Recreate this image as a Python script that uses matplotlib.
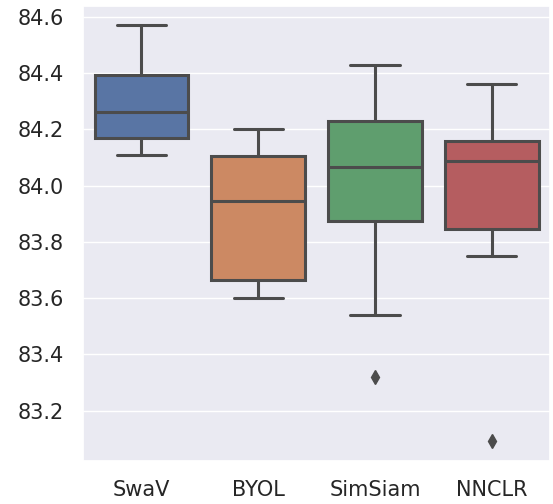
import colorsys
import matplotlib
matplotlib.use("Agg")
import matplotlib.pyplot as plt
import matplotlib.colors as mcolors
import seaborn as sns

# summary stats
methods = ["SwaV", "BYOL", "SimSiam", "NNCLR"]
whislo = [84.11, 83.60, 83.54, 83.75]
q1 = [84.17, 83.665, 83.875, 83.845]
med = [84.26, 83.945, 84.067, 84.087]
q3 = [84.393, 84.106, 84.229, 84.157]
whishi = [84.57, 84.20, 84.428, 84.361]
fliers = [[], [], [83.321], [83.092]]

sns.set_theme(style="darkgrid")
plt.rcParams['font.family'] = ['DejaVu Sans']

base = sns.color_palette("deep", 4)
colors = [sns.desaturate(c, 0.75) for c in base]
light = min(colorsys.rgb_to_hls(*c)[1] for c in colors)
gray = mcolors.rgb2hex((light * .6,) * 3)

stats = []
for i, m in enumerate(methods):
    stats.append(dict(label=m, whislo=whislo[i], q1=q1[i], med=med[i],
                      q3=q3[i], whishi=whishi[i], fliers=fliers[i]))

fig = plt.figure(figsize=(5.53, 5.04), dpi=100)
ax = fig.add_axes([0.150, 0.086, 0.845, 0.902])

lw = 2.2
bp = ax.bxp(stats, positions=range(len(methods)), widths=0.8,
            patch_artist=True, showfliers=True,
            boxprops=dict(edgecolor=gray, linewidth=lw),
            medianprops=dict(color=gray, linewidth=lw),
            whiskerprops=dict(color=gray, linewidth=lw),
            capprops=dict(color=gray, linewidth=lw),
            flierprops=dict(marker="d", markerfacecolor=gray, markeredgecolor=gray,
                            markersize=7, linestyle="none"))
for patch, c in zip(bp["boxes"], colors):
    patch.set_facecolor(c)
for cap in bp["caps"]:
    x = cap.get_xdata()
    mid = x.mean()
    cap.set_xdata([mid - 0.21, mid + 0.21])

ax.set_xlim(-0.5, 3.5)
ax.set_ylim(83.022, 84.638)
ax.set_yticks([83.2, 83.4, 83.6, 83.8, 84.0, 84.2, 84.4, 84.6])
ax.set_xticks(range(len(methods)))
ax.set_xticklabels(methods)
ax.tick_params(axis="both", labelsize=15, pad=14, length=0, colors="#262626")
ax.grid(axis="x", visible=False)

fig.savefig("out.png", dpi=100)
